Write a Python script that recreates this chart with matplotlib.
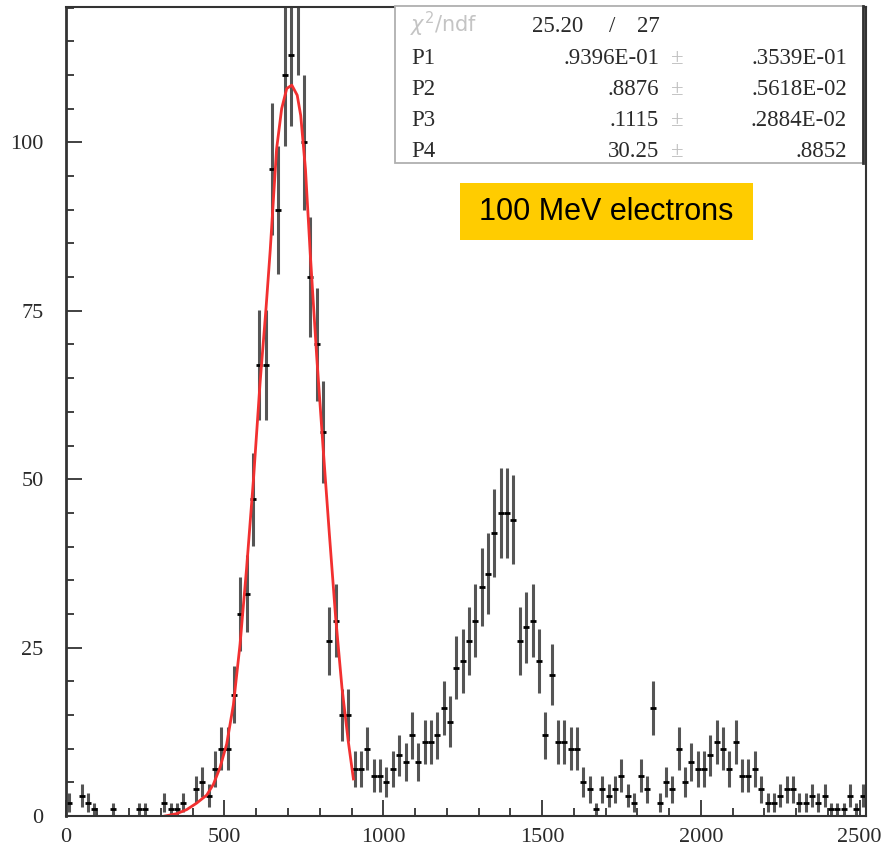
import numpy as np
import matplotlib.pyplot as plt
from matplotlib.patches import Rectangle
from matplotlib.ticker import MultipleLocator

# histogram: 126 bins of width 20 from 0 to 2520
bin_width = 20
counts = [
    2, 0, 3, 2, 1, 0, 0, 1, 0, 0,
    0, 1, 1, 0, 0, 2, 1, 1, 2, 0,
    4, 5, 3, 7, 10, 10, 18, 30, 33, 47,
    67, 67, 96, 90, 110, 113, 121, 100, 80, 70,
    57, 26, 29, 15, 15, 7, 7, 10, 6, 6,
    5, 7, 9, 8, 12, 8, 11, 11, 12, 16,
    14, 22, 23, 26, 29, 34, 36, 42, 45, 45,
    44, 26, 28, 29, 23, 12, 21, 11, 11, 10,
    10, 5, 4, 1, 4, 3, 4, 6, 3, 2,
    6, 4, 16, 2, 5, 4, 10, 5, 8, 7,
    7, 9, 11, 10, 7, 11, 6, 6, 7, 4,
    2, 2, 3, 4, 4, 2, 2, 3, 2, 3,
    1, 1, 1, 3, 1, 3,
]

# fitted curve over the first peak
fit_x = [313, 350, 381, 412, 444, 465, 486, 507, 528, 549, 570, 591, 612,
         631, 644, 664, 680, 696, 712, 729, 740, 755, 770, 790, 810, 830,
         850, 870, 890, 906]
fit_y = [0.0, 0.35, 0.95, 1.9, 3.1, 4.7, 7.2, 10.7, 16.5, 25.5, 37.0, 49.8,
         64.3, 75.5, 84.0, 99.0, 105.0, 108.0, 108.5, 107.0, 104.0, 96.0,
         83.5, 68.5, 55.0, 42.0, 29.5, 19.0, 11.0, 5.5]

stat_names = ["P1", "P2", "P3", "P4"]
stat_vals = [".9396E-01", ".8876", ".1115", "30.25"]
stat_errs = [".3539E-01", ".5618E-02", ".2884E-02", ".8852"]
chi2, ndf = "25.20", "27"

W, H = 881, 848
fig = plt.figure(figsize=(W / 100, H / 100), dpi=100)


def fx(px):
    return px / W


def fy(py):
    return 1 - py / H


ax = fig.add_axes([fx(65.7), fy(816), (866 - 65.7) / W, (816 - 7) / H])

counts = np.array(counts, dtype=float)
centers = (np.arange(len(counts)) + 0.5) * bin_width
filled = counts > 0
ax.errorbar(centers[filled], counts[filled], yerr=np.sqrt(counts[filled]),
            fmt='none', ecolor='#555555', elinewidth=2.2, capsize=0)
ax.plot(centers[filled], counts[filled], ls='none', marker='_', ms=5,
        mew=2, color='black')
ax.plot(fit_x, fit_y, color='#f23030', lw=2)

ax.set_xlim(0, len(counts) * bin_width)
ax.set_ylim(0, 120.1)
ax.xaxis.set_major_locator(MultipleLocator(500))
ax.xaxis.set_minor_locator(MultipleLocator(100))
ax.yaxis.set_major_locator(MultipleLocator(25))
ax.yaxis.set_minor_locator(MultipleLocator(5))
ax.tick_params(which='both', direction='in', top=False, right=False,
               color='#333333', width=1.3)
ax.tick_params(which='major', length=11.5)
ax.tick_params(which='minor', length=6)
ax.tick_params(axis='y', which='major', pad=16)
ax.tick_params(axis='x', which='major', pad=9)
for lab in ax.get_xticklabels() + ax.get_yticklabels():
    lab.set_fontfamily('Liberation Serif')
    lab.set_fontsize(16)
    lab.set_color('#2a2a2a')
for sp in ax.spines.values():
    sp.set_color('#333333')
    sp.set_linewidth(1.5)
ax.spines['left'].set_linewidth(2)

# statistics box
fig.patches.append(Rectangle((fx(395), fy(163)), fx(863) - fx(395),
                             fy(6) - fy(163), transform=fig.transFigure,
                             facecolor='white', edgecolor='#b0b0b0', lw=1.3,
                             zorder=5))
fig.add_artist(plt.Line2D([fx(863), fx(863)], [fy(163), fy(6)],
                          transform=fig.transFigure, color='#333333', lw=2,
                          zorder=6))
serif = dict(fontfamily='Liberation Serif', fontsize=16.5, color='#2a2a2a',
             va='baseline', zorder=7)
fig.text(fx(410), fy(32), r'$\chi^2$/ndf', fontsize=15, color='#c4c4c4',
         va='baseline', zorder=7)
fig.text(fx(583), fy(32), chi2, ha='right', **serif)
fig.text(fx(612), fy(32), "/", ha='center', **serif)
fig.text(fx(660), fy(32), ndf, ha='right', **serif)
for i, (n, v, e) in enumerate(zip(stat_names, stat_vals, stat_errs)):
    base = 64.3 + i * 31
    fig.text(fx(411), fy(base), n, ha='left', **serif)
    fig.text(fx(659), fy(base), v, ha='right', **serif)
    fig.text(fx(677), fy(base), "\u00b1", ha='center',
             **{**serif, 'color': '#c0c0c0'})
    fig.text(fx(847), fy(base), e, ha='right', **serif)

# beam label
fig.patches.append(Rectangle((fx(460), fy(240)), fx(753) - fx(460),
                             fy(183) - fy(240), transform=fig.transFigure,
                             facecolor='#ffcc00', edgecolor='none', zorder=5))
fig.text(fx(606.5), fy(212), "100 MeV electrons", ha='center', va='center',
         fontfamily='Liberation Sans', fontsize=22, color='black', zorder=7)

fig.savefig('out.png', dpi=100)
